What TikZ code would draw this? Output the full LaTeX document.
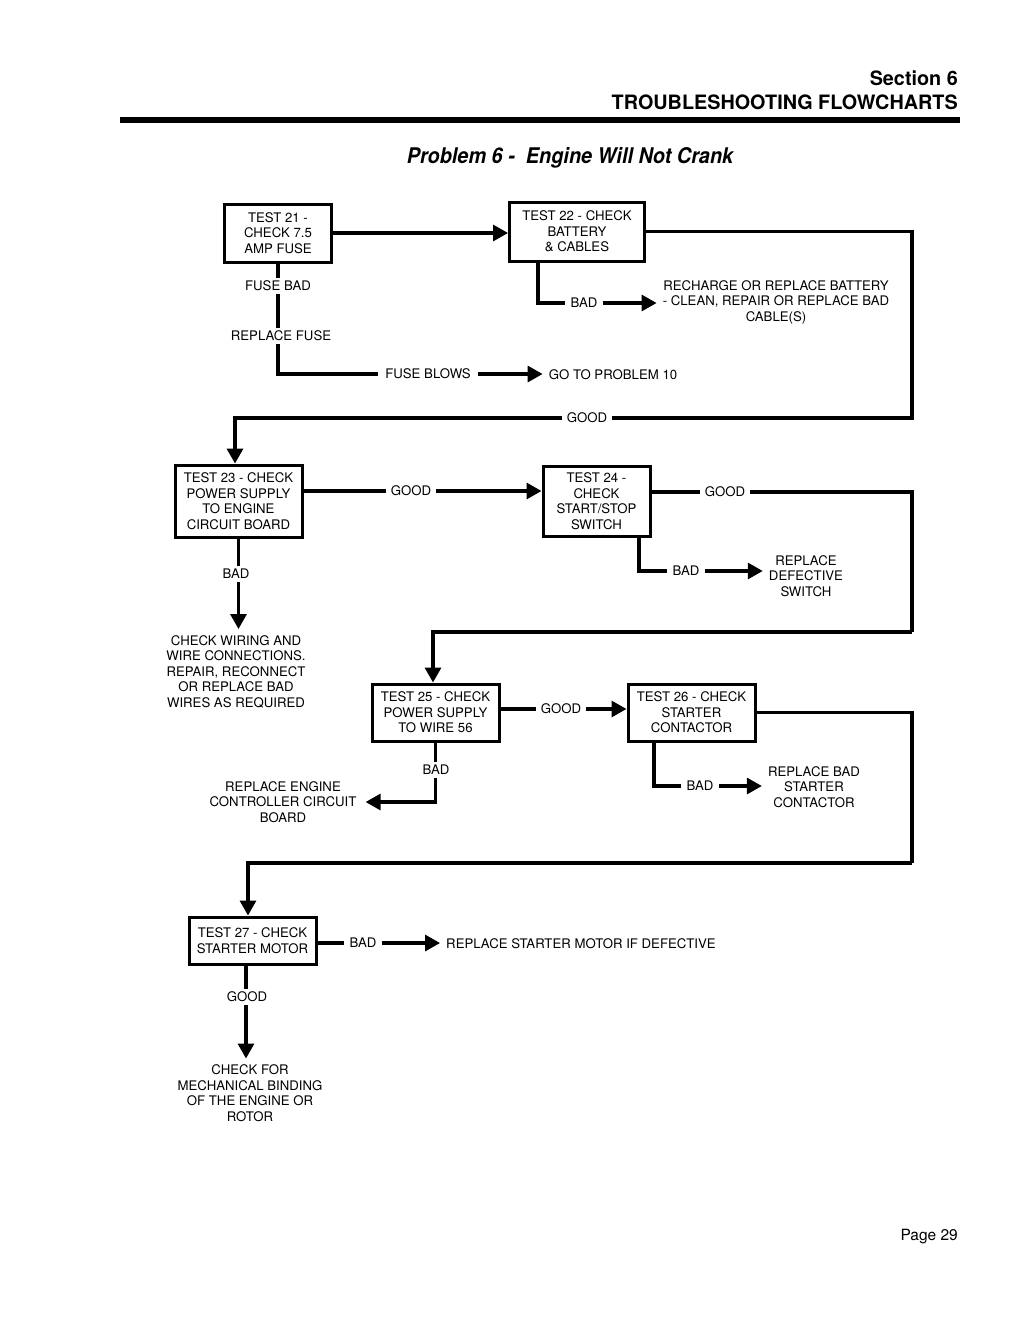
\documentclass[tikz,border=0pt]{standalone}
\usepackage{fontspec}
\setmainfont{TeX Gyre Heros}
\usetikzlibrary{arrows.meta}
\newfontfamily\titlefont[FakeStretch=0.92]{TeX Gyre Heros}
\begin{document}
\begin{tikzpicture}[x=1pt,y=-1pt,
  every node/.style={font=\fontsize{13.2}{15.5}\selectfont, align=center},
  box/.style={draw, line width=3pt, inner sep=3pt},
  lbl/.style={inner xsep=5pt, inner ysep=3pt},
  txt/.style={inner sep=6pt},
  ln/.style={line width=3.2pt},
  arr/.style={line width=3.2pt, -{Triangle[length=15pt,width=16pt]}}]
\useasboundingbox (0,0) rectangle (1020,1320);
% header
\node[anchor=east, inner sep=0, font=\fontsize{19.8}{23}\selectfont\bfseries] (sec) at (958,78) {Section 6};
\node[anchor=east, inner sep=0, font=\fontsize{19.8}{23}\selectfont\bfseries] (tsf) at (958,102) {TROUBLESHOOTING FLOWCHARTS};
\fill (120,117) rectangle (960,123);
\node[inner sep=0, font=\fontsize{21.6}{24}\titlefont\bfseries\itshape] (title) at (570,158) {Problem 6 -\ \ Engine Will Not Crank};
\node[anchor=east, inner sep=0, font=\fontsize{15.5}{18}\selectfont] (page) at (958,1237) {Page 29};

% boxes
\node[box, minimum width=107pt, minimum height=58pt] (t21) at (278,233) {TEST 21 -\\CHECK 7.5\\AMP FUSE};
\node[box, minimum width=135pt, minimum height=59pt] (t22) at (577,231.5) {TEST 22 - CHECK\\BATTERY\\\& CABLES};
\node[box, minimum width=127pt, minimum height=72pt] (t23) at (238.5,501) {TEST 23 - CHECK\\POWER SUPPLY\\TO ENGINE\\CIRCUIT BOARD};
\node[box, minimum width=107pt, minimum height=70pt] (t24) at (596.5,501) {TEST 24 -\\CHECK\\START/STOP\\SWITCH};
\node[box, minimum width=127pt, minimum height=57pt] (t25) at (435.5,712.5) {TEST 25 - CHECK\\POWER SUPPLY\\TO WIRE 56};
\node[box, minimum width=127pt, minimum height=57pt] (t26) at (691.5,712.5) {TEST 26 - CHECK\\STARTER\\CONTACTOR};
\node[box, minimum width=127pt, minimum height=47pt] (t27) at (252.5,940.5) {TEST 27 - CHECK\\STARTER MOTOR};

% labels
\node[lbl] (fusebad) at (278,286) {FUSE BAD};
\node[lbl] (repf) at (281,336) {REPLACE FUSE};
\node[lbl, inner xsep=7pt] (fblows) at (428,374) {FUSE BLOWS};
\node[txt] (gop10) at (613,375) {GO TO PROBLEM 10};
\node[lbl] (bad2) at (584,303) {BAD};
\node[txt] (rech) at (776,302) {RECHARGE OR REPLACE BATTERY\\- CLEAN, REPAIR OR REPLACE BAD\\CABLE(S)};
\node[lbl] (good1) at (587,418) {GOOD};
\node[lbl] (good3) at (411,491) {GOOD};
\node[lbl] (good4) at (725,492) {GOOD};
\node[lbl] (bad4) at (686,571) {BAD};
\node[txt] (repsw) at (806,576) {REPLACE\\DEFECTIVE\\SWITCH};
\node[lbl] (bad3) at (236,574) {BAD};
\node[txt] (chkw) at (236,671.5) {CHECK WIRING AND\\WIRE CONNECTIONS.\\REPAIR, RECONNECT\\OR REPLACE BAD\\WIRES AS REQUIRED};
\node[lbl] (good5) at (561,709) {GOOD};
\node[lbl] (bad5) at (436,770) {BAD};
\node[txt, inner sep=9pt] (repeng) at (283,802) {REPLACE ENGINE\\CONTROLLER CIRCUIT\\BOARD};
\node[lbl] (bad6) at (700,786) {BAD};
\node[txt] (repsc) at (814,787) {REPLACE BAD\\STARTER\\CONTACTOR};
\node[lbl] (bad7) at (363,943) {BAD};
\node[txt] (repsm) at (581,944) {REPLACE STARTER MOTOR IF DEFECTIVE};
\node[lbl] (good7) at (247,997) {GOOD};
\node[txt] (chkf) at (250,1093) {CHECK FOR\\MECHANICAL BINDING\\OF THE ENGINE OR\\ROTOR};

% helper coordinates
\coordinate (k22) at (538,0);
\coordinate (k23) at (235,0);
\coordinate (k24) at (639,0);
\coordinate (k25) at (433,0);
\coordinate (k26) at (654,0);
\coordinate (k27) at (248,0);
\coordinate (k27d) at (246,0);
\coordinate (c1) at (912,418);
\coordinate (c2) at (912,632);
\coordinate (c3) at (912,863);

% connectors
\draw[arr] (t21.east) -- (t22.west |- t21.east);
\draw[ln] (t21.south) -- (fusebad.north);
\draw[ln] (fusebad.south) -- (repf.north -| fusebad.south);
\draw[ln] (repf.south -| fusebad.south) |- (fblows.west);
\draw[arr] (fblows.east) -- (gop10.west |- fblows.east);
\draw[ln] (k22 |- t22.south) |- (bad2.west);
\draw[arr] (bad2.east) -- (rech.west |- bad2.east);
\draw[ln] (t22.east) -| (c1) -- (good1.east);
\draw[arr] (good1.west) -| (k23 |- t23.north);
\draw[ln] (t23.east |- good3) -- (good3.west);
\draw[arr] (good3.east) -- (t24.west |- good3);
\draw[ln] (t23.south) -- (bad3.north -| t23.south);
\draw[arr] (bad3.south -| t23.south) -- (chkw.north -| t23.south);
\draw[ln] (t24.east |- good4) -- (good4.west);
\draw[ln] (good4.east) -| (c2);
\draw[arr] (c2) -| (k25 |- t25.north);
\draw[ln] (k24 |- t24.south) |- (bad4.west);
\draw[arr] (bad4.east) -- (repsw.west |- bad4.east);
\draw[ln] (t25.east |- good5) -- (good5.west);
\draw[arr] (good5.east) -- (t26.west |- good5);
\draw[ln] (t25.south) -- (bad5.north -| t25.south);
\draw[arr] (bad5.south -| t25.south) |- (repeng.east);
\draw[ln] (t26.east) -| (c3);
\draw[arr] (c3) -| (k27 |- t27.north);
\draw[ln] (k26 |- t26.south) |- (bad6.west);
\draw[arr] (bad6.east) -- (repsc.west |- bad6.east);
\draw[ln] (t27.east |- bad7) -- (bad7.west);
\draw[arr] (bad7.east) -- (repsm.west |- bad7.east);
\draw[ln] (k27d |- t27.south) -- (k27d |- good7.north);
\draw[arr] (k27d |- good7.south) -- (k27d |- chkf.north);
\end{tikzpicture}
\end{document}
